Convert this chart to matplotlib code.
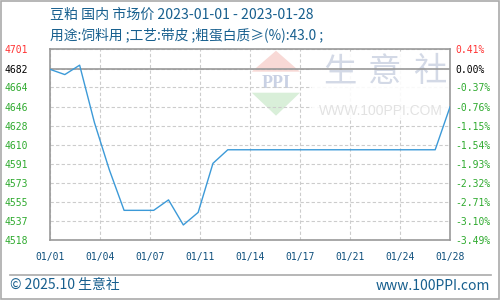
import matplotlib
matplotlib.use("Agg")
import matplotlib.pyplot as plt
from matplotlib.patches import Polygon, Rectangle
from matplotlib.lines import Line2D

# ---- data ----
dates = ["01/%02d" % d for d in range(1, 29)]
prices = [4682, 4677, 4686, 4631, 4586, 4547, 4547, 4547, 4557, 4533,
          4545, 4592, 4605, 4605, 4605, 4605, 4605, 4605, 4605, 4605,
          4605, 4605, 4605, 4605, 4605, 4605, 4605, 4646]
base_price = 4682
pct_ticks = [0.41, 0.00, -0.37, -0.76, -1.15, -1.54, -1.93, -2.32, -2.71, -3.10, -3.49]
left_labels = ["4701", "4682", "4664", "4646", "4628", "4610", "4591", "4573", "4555", "4537", "4518"]
right_labels = ["0.41%", "0.00%", "-0.37%", "-0.76%", "-1.15%", "-1.54%", "-1.93%", "-2.32%", "-2.71%", "-3.10%", "-3.49%"]
x_labels = ["01/01", "01/04", "01/07", "01/11", "01/14", "01/17", "01/21", "01/24", "01/28"]
title1 = "豆粕 国内 市场价 2023-01-01 - 2023-01-28"
title2 = "用途:饲料用 ;工艺:带皮 ;粗蛋白质≥(%):43.0 ;"
footer_left = "© 2025.10 生意社"
footer_right = "www.100PPI.com"

plt.rcParams['font.family'] = ['Noto Sans CJK SC', 'DejaVu Sans']

W, H = 500, 300
fig = plt.figure(figsize=(5, 3), dpi=100)
fig.patch.set_facecolor("white")

def px(x, y):
    return (x / W, 1 - y / H)

ax = fig.add_axes([50 / W, 1 - 240 / H, 400 / W, (240 - 49.3) / H])
ax.set_facecolor("white")

n = len(prices)
xs = list(range(n))
ax.set_xlim(0, n - 1)
ytick_vals = [base_price * (1 + p / 100) for p in pct_ticks]
ax.set_ylim(min(ytick_vals), max(ytick_vals))

# grid
ax.set_axisbelow(True)
step = (n - 1) / (len(x_labels) - 1)
xt = [i * step for i in range(len(x_labels))]
ax.set_xticks(xt)
ax.set_xticklabels(x_labels)
ax.set_yticks(ytick_vals)
ax.set_yticklabels(left_labels)
ax.grid(True, color="#cccccc", linestyle=(0, (3, 2)), linewidth=0.8)

for s in ax.spines.values():
    s.set_color("#999999")
    s.set_linewidth(1.2)

mono = "DejaVu Sans Mono"
ax.tick_params(axis="x", length=0, pad=8.5, labelsize=7, labelcolor="#0e4f7c")
ax.tick_params(axis="y", length=0, pad=15.8, labelsize=7)
for lab in ax.get_xticklabels():
    lab.set_family(mono)
for i, lab in enumerate(ax.get_yticklabels()):
    lab.set_family(mono)
    lab.set_horizontalalignment("right")
    lab.set_color("#ff3333" if i == 0 else ("#000000" if i == 1 else "#2eaa2e"))

ax2 = ax.twinx()
ax2.set_ylim(ax.get_ylim())
ax2.set_yticks(ytick_vals)
ax2.set_yticklabels(right_labels)
ax2.tick_params(axis="y", length=0, pad=3.6, labelsize=7)
for s in ax2.spines.values():
    s.set_visible(False)
for i, lab in enumerate(ax2.get_yticklabels()):
    lab.set_family(mono)
    lab.set_color("#ff3333" if i == 0 else ("#000000" if i == 1 else "#2eaa2e"))

# watermark: logo
ax.add_patch(Polygon([px(276, 50.7), px(251.7, 71.7), px(300, 71.7)], closed=True,
                     transform=fig.transFigure, facecolor="#f8d9d6", edgecolor="none", zorder=0.2))
ax.add_patch(Polygon([px(251.7, 92.7), px(300, 92.7), px(276, 115.7)], closed=True,
                     transform=fig.transFigure, facecolor="#d9efd9", edgecolor="none", zorder=0.2))
ax.text(*px(276, 83.5), "PPI", transform=fig.transFigure, ha="center", va="center",
        fontsize=13, fontweight="bold", family="Liberation Serif", color="#c9d1e4", zorder=0.3)
ax.add_patch(Rectangle(px(312, 118), 138 / W, 66 / H, transform=fig.transFigure,
                       facecolor="white", edgecolor="none", alpha=0.9, zorder=1))
for ch, cx in zip("生意社", [340, 385, 430]):
    ax.text(*px(cx, 72), ch, transform=fig.transFigure, ha="center", va="center",
            fontsize=24, family="Noto Sans CJK SC", color="#d3d9e6", zorder=1.1)
ax.text(*px(381, 111.5), "WWW.100PPI.COM", transform=fig.transFigure, ha="center", va="center",
        fontsize=10, family="Liberation Sans", color="#e2e2e2", zorder=1.1)

# base line
ax.axhline(base_price, color="#999999", linewidth=1.2, zorder=2)

# data line
ax.plot(xs, prices, color="#3c9ad8", linewidth=1.0, zorder=3)

# titles
title_color = "#175f8e"
fig.text(*px(50, 15), title1, ha="left", va="center", fontsize=10.1, color=title_color)
fig.text(*px(50, 34.5), title2, ha="left", va="center", fontsize=9.9, color=title_color)

# footer
fig.add_artist(Line2D([10 / W, 491 / W], [1 - 275 / H, 1 - 275 / H], color="#aaaaaa", linewidth=1.2))
fig.text(*px(10, 285.5), footer_left, ha="left", va="center", fontsize=10, color=title_color)
fig.text(*px(490, 285.5), footer_right, ha="right", va="center", fontsize=10, color=title_color)

# outer border
fig.add_artist(Rectangle((0.001, 0.002), 0.997, 0.995, transform=fig.transFigure,
                         facecolor="none", edgecolor="#aaaaaa", linewidth=1.2))

fig.savefig("out.png", dpi=100)
